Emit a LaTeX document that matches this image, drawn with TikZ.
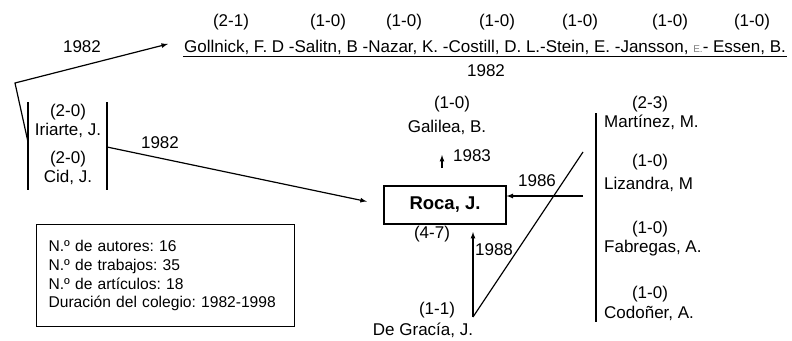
\documentclass[tikz,border=0pt]{standalone}
\usepackage{fontspec}
\setmainfont{Liberation Sans}
\frenchspacing
\usetikzlibrary{arrows,positioning}
\tikzset{
    author/.style={inner sep=1pt,font=\fontsize{17}{19}\selectfont},
    score/.style={inner sep=1pt,font=\fontsize{17}{19}\selectfont},
    year/.style={inner sep=1pt,font=\fontsize{17}{19}\selectfont},
    central/.style={draw,line width=1.2pt,minimum width=122pt,minimum height=38pt,
        font=\bfseries\fontsize{18.5}{20}\selectfont},
    summary/.style={draw,line width=1.2pt,anchor=north west,align=left,
        text width=234pt,inner xsep=12pt,minimum height=102pt,
        font=\fontsize{15.6}{18.8}\selectfont},
    bar/.style={line width=1.2pt},
    link/.style={-latex,line width=1.2pt}
}

\begin{document}
\begin{tikzpicture}[x=1pt,y=-1pt]
    \useasboundingbox (0,0) rectangle (792,340);

    % coauthors of 1982
    \node[author] (names) at (485,47)
        {Gollnick, F. D -Salitn, B -Nazar, K. -Costill, D. L.-Stein, E. -Jansson, {\color{gray}\fontsize{10}{12}\selectfont E.}- Essen, B.};
    \foreach \x/\s [count=\i] in {231/2-1,328/1-0,404/1-0,497/1-0,580/1-0,670/1-0,752/1-0}
        \node[score] (top \i) at (\x,22) {(\s)};
    \draw[bar] ([yshift=-1pt]names.south west) -- ([yshift=-1pt]names.south east);
    \node[year] (year names) at (486,71) {1982};

    % left group
    \node[author] (iriarte) at (68,130) {Iriarte, J.};
    \node[score] (iriarte score) [above=0pt of iriarte] {(2-0)};
    \node[author] (cid) at (68,177) {Cid, J.};
    \node[score] (cid score) [above=0pt of cid] {(2-0)};
    \coordinate (left top) at (28,102);
    \coordinate (left bottom) at (28,190);
    \coordinate (left mid) at (28,142);
    \coordinate (right top) at (107,102);
    \coordinate (right bottom) at (107,190);
    \coordinate (right mid) at (107,147);
    \coordinate (corner) at (15,83);
    \draw[bar] (left top) -- (left bottom);
    \draw[bar] (right top) -- (right bottom);

    % central author
    \node[central] (roca) at (445,205) {Roca, J.};

    \draw[link] (left mid) -- (corner) -- ([xshift=-15pt,yshift=3pt]names.west);
    \node[year] (year top) at (82,47) {1982};
    \draw[link,shorten >=17pt] (right mid) -- (roca.west);
    \node[year] (year left) at (160,143) {1982};

    % Galilea
    \node[author] (galilea) at (447,127) {Galilea, B.};
    \node[score] (galilea score) at (452,104) {(1-0)};
    \coordinate (galilea from) at (442,168);
    \coordinate (galilea to) at (442,155);
    \draw[link] (galilea from) -- (galilea to);
    \node[year] (year galilea) at (472,156) {1983};

    % right group
    \node[author,anchor=west] (martinez) at (603,122) {Martínez, M.};
    \node[score] (martinez score) at (650,104) {(2-3)};
    \node[author,anchor=west] (lizandra) at (603,184) {Lizandra, M};
    \node[score] (lizandra score) at (650,162) {(1-0)};
    \node[author,anchor=west] (fabregas) at (603,248) {Fabregas, A.};
    \node[score] (fabregas score) at (650,229) {(1-0)};
    \node[author,anchor=west] (codoner) at (603,313) {Codoñer, A.};
    \node[score] (codoner score) at (650,294) {(1-0)};
    \coordinate (bar top) at (596,113);
    \coordinate (bar bottom) at (596,322);
    \draw[bar] (bar top) -- (bar bottom);
    \coordinate (arrow start) at (583,196);
    \draw[link] (arrow start) -- (arrow start -| roca.east);
    \node[year] (year right) at (537,181) {1986};

    % De Gracia
    \node[author] (degracia) at (423,330) {De Gracía, J.};
    \node[score] (degracia score) at (437,310) {(1-1)};
    \node[score] (roca score) at (432,234) {(4-7)};
    \coordinate (slash top) at (583,152);
    \coordinate (slash bottom) at (473,317);
    \coordinate (slash tip) at (473,232);
    \draw[bar] (slash top) -- (slash bottom);
    \draw[link] (slash bottom) -- (slash tip);
    \node[year] (year bottom) at (494,250) {1988};

    % summary
    \node[summary] (info) at (36,224)
        {N.º de autores: 16\\
         N.º de trabajos: 35\\
         N.º de artículos: 18\\
         Duración del colegio: 1982-1998};
\end{tikzpicture}
\end{document}
